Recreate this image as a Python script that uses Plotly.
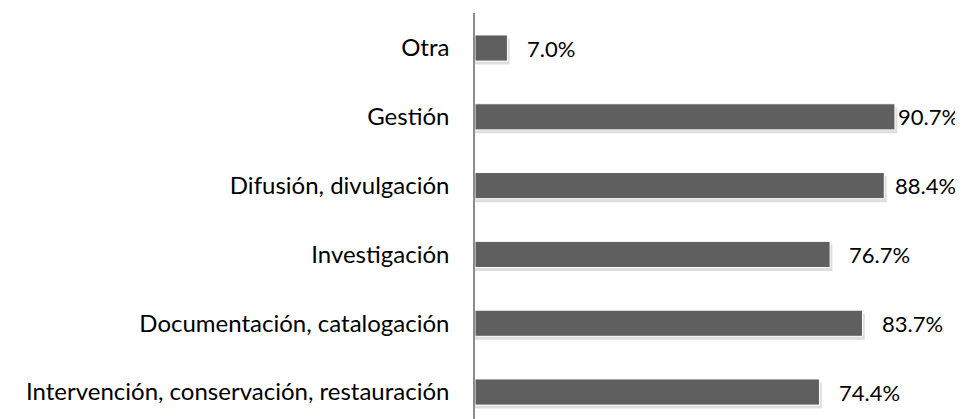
import plotly.graph_objects as go

categories = [
    "Intervención, conservación, restauración",
    "Documentación, catalogación",
    "Investigación",
    "Difusión, divulgación",
    "Gestión",
    "Otra",
]
values = [74.4, 83.7, 76.7, 88.4, 90.7, 7.0]
value_labels = ["74.4%", "83.7%", "76.7%", "88.4%", "90.7%", "7.0%"]
label_shift = [18, 17, 17, 9, 1, 18]

FONT = "Lato"
FSIZE = 24
VSIZE = 22
BAR_W = 0.38

fig = go.Figure()
# soft shadow
fig.add_trace(go.Bar(
    y=categories, x=[v + 0.5 for v in values], orientation="h",
    width=BAR_W, offset=-BAR_W / 2 - 0.05,
    marker=dict(color="rgba(0,0,0,0.13)", line=dict(width=0)),
    hoverinfo="skip", showlegend=False,
))
fig.add_trace(go.Bar(
    y=categories, x=values, orientation="h", width=BAR_W,
    marker=dict(color="#5f5f5f", line=dict(color="white", width=1)),
    showlegend=False,
))

for c, v, t, s in zip(categories, values, value_labels, label_shift):
    fig.add_annotation(x=v, y=c, text=t, xanchor="left", yanchor="middle",
                       xshift=s, showarrow=False,
                       font=dict(family=FONT, size=VSIZE, color="#000000"))

fig.update_layout(
    width=963, height=419,
    margin=dict(l=467, r=33, t=5, b=8),
    paper_bgcolor="white", plot_bgcolor="white",
    barmode="overlay",
    font=dict(family=FONT, size=FSIZE, color="#000000"),
    xaxis=dict(range=[0, 100], visible=False, showgrid=False, zeroline=False),
    yaxis=dict(
        categoryorder="array", categoryarray=categories,
        range=[-0.392, 5.509],
        showline=True, linecolor="#8c8c8c", linewidth=1.5,
        ticks="", ticklabelstandoff=19,
        showgrid=False, zeroline=False,
        tickfont=dict(family=FONT, size=FSIZE, color="#000000"),
    ),
)

fig.write_html("out.html")
